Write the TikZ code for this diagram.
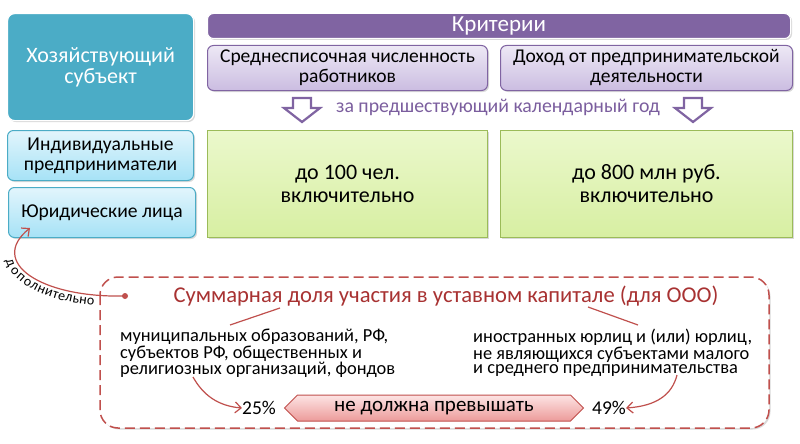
\documentclass[tikz,border=0pt]{standalone}
\usepackage{fontspec}
\setmainfont{Carlito}
\usetikzlibrary{shapes.arrows,shadows,arrows.meta,decorations.text}
\definecolor{tealA}{HTML}{4BACC6}
\definecolor{purpA}{HTML}{8064A2}
\definecolor{purpT}{HTML}{EDE8F5}
\definecolor{purpB}{HTML}{CBBDE1}
\definecolor{grnT}{HTML}{EBF8CC}
\definecolor{grnB}{HTML}{D7EFA2}
\definecolor{grnL}{HTML}{9BBB59}
\definecolor{cyT}{HTML}{E2F5FC}
\definecolor{cyB}{HTML}{A6E2F6}
\definecolor{redA}{HTML}{C0504D}
\definecolor{redT}{HTML}{A83232}
\definecolor{pinkT}{HTML}{FDE4E4}
\definecolor{pinkB}{HTML}{EC9B9A}
\definecolor{txtP}{HTML}{7B5E9E}
\newcommand{\fs}[2]{\fontsize{#1}{#2}\selectfont}
\tikzset{
  shad/.style={drop shadow={shadow xshift=1.5pt,shadow yshift=-1.5pt,opacity=0.3}},
  tealbox/.style={shad,fill=tealA,draw=white,line width=1.2pt,rounded corners=7pt,text=white,align=center,inner sep=2pt},
  critbar/.style={shad,fill=purpA,draw=white,line width=1pt,rounded corners=6pt,text=white,align=center,inner sep=0pt},
  critbox/.style={shad,top color=purpT,bottom color=purpB,draw=purpA,line width=1pt,rounded corners=6pt,align=center,inner sep=0pt},
  grnbox/.style={shad,top color=grnT,bottom color=grnB,draw=grnL,line width=1pt,align=center,inner sep=0pt},
  cybox/.style={shad,top color=cyT,bottom color=cyB,draw=tealA,line width=1pt,rounded corners=6pt,align=center,inner sep=0pt},
  hollow/.style={draw=purpA,line width=2.2pt,fill=white,line join=miter},
  dashbox/.style={shad,fill=white,draw=redA,line width=1.5pt,dash pattern=on 10pt off 5pt,rounded corners=18pt},
  redline/.style={draw=redA,line width=1.2pt},
  redarrow/.style={redline,-{Straight Barb[length=6pt,width=11pt,line width=1.2pt]}},
  banner/.style={double arrow,double arrow head extend=0pt,draw=redA,line width=1pt,top color=pinkT,bottom color=pinkB,inner sep=0pt,shape border rotate=0},
  plain/.style={inner sep=0pt,align=left}
}
\begin{document}
\begin{tikzpicture}[x=1pt,y=-1pt]
\useasboundingbox (0,0) rectangle (800,444);
% left column
\node[tealbox,minimum width=186pt,minimum height=107pt,anchor=north west,font=\fs{22}{21.5}] (hoz) at (7,13)
  {Хозяйствующий\\субъект};
\node[cybox,minimum width=186pt,minimum height=50pt,anchor=north west,font=\fs{19.6}{20}] (ip) at (7,130)
  {Индивидуальные\\предприниматели};
\node[cybox,minimum width=187pt,minimum height=50pt,anchor=north west,font=\fs{19.6}{20}] (ul) at (8,187)
  {Юридические лица};
% criteria
\node[critbar,minimum width=583pt,minimum height=25pt,anchor=north west,font=\fs{23}{23}] (crit) at (207,13)
  {Критерии};
\node[critbox,minimum width=280pt,minimum height=45pt,anchor=north west,font=\fs{19.5}{20}] (c1) at (207,45)
  {Среднесписочная численность\\работников};
\node[critbox,minimum width=292pt,minimum height=45pt,anchor=north west,font=\fs{19.5}{20}] (c2) at (500,45)
  {Доход от предпринимательской\\деятельности};
% hollow arrows
\path[hollow] (293,98) -- (311,98) -- (311,108) -- (320,108) -- (302,122) -- (284,108) -- (293,108) -- cycle;
\path[hollow] (684,98) -- (702,98) -- (702,108) -- (711,108) -- (693,122) -- (675,108) -- (684,108) -- cycle;
\node[inner sep=0pt,text=txtP,font=\fs{19.8}{20}] (prev) at (498,107) {за предшествующий календарный год};
% green boxes
\node[grnbox,minimum width=280pt,minimum height=107pt,anchor=north west,font=\fs{22}{23}] (g1) at (207,130)
  {до 100 чел.\\включительно};
\node[grnbox,minimum width=292pt,minimum height=107pt,anchor=north west,font=\fs{22}{23}] (g2) at (500,130)
  {до 800 млн руб.\\включительно};
% dashed box
\path[dashbox] (100,277) rectangle (769,428);
\node[inner sep=0pt,text=redT,font=\fs{22.6}{22}] (title) at (446,296) {Суммарная доля участия в уставном капитале (для ООО)};
\node[plain,anchor=north west,font=\fs{18.4}{14.6}] (lt) at (120,329)
  {муниципальных образований, РФ,\\субъектов РФ, общественных и\\религиозных организаций, фондов};
\node[plain,anchor=north west,font=\fs{18.4}{14.6}] (rt) at (473,329)
  {иностранных юрлиц и (или) юрлиц,\\не являющихся субъектами малого\\и среднего предпринимательства};
\node[banner,minimum height=299pt,minimum width=26pt,font=\fs{21}{21}] (ban) at (434,408) {не должна превышать};
\node[inner sep=0pt,font=\fs{19.5}{19.5}] (p25) at (259,408) {25\%};
\node[inner sep=0pt,font=\fs{19.5}{19.5}] (p49) at (609,408) {49\%};
% connectors
\coordinate (l1a) at (230,325);
\coordinate (l1b) at (280,308);
\coordinate (l2a) at (588,307);
\coordinate (l2b) at (638,325);
\draw[redline] (l1a) -- (l1b);
\draw[redline] (l2a) -- (l2b);
\coordinate (la) at (193,377);
\coordinate (ra) at (677,375);
\draw[redarrow] (la) .. controls (203,395) and (218,406) .. (p25.west);
\draw[redarrow] (ra) .. controls (672,395) and (656,406) .. (p49.east);
\coordinate (dot) at (125,296);
\coordinate (tip) at (30,228);
\fill[redA] (dot) circle (3pt);
\draw[redarrow] (dot) .. controls (40,298) and (-12,262) .. (tip);
\path[decorate,decoration={text along path,raise=-10.5pt,text align={align=right,right indent=30pt},
   text={|\fs{14}{14}|дополнительно}}] (tip) .. controls (-12,262) and (40,298) .. (dot);
\end{tikzpicture}
\end{document}
